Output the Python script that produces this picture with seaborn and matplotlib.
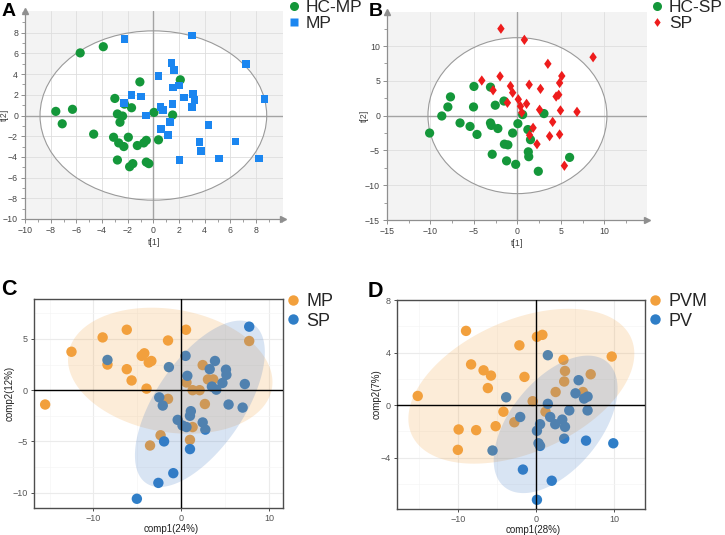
import numpy as np
import pandas as pd
import seaborn as sns
import matplotlib
matplotlib.use("Agg")
import matplotlib.pyplot as plt
from matplotlib.patches import Ellipse, Polygon
from matplotlib.ticker import MultipleLocator, FixedLocator
from matplotlib.path import Path
from matplotlib.lines import Line2D

# ---------------- data ----------------
# Panel A (PLS-DA scores, HC-MP vs MP)
a_hc_x = [-5.7, -3.9, -7.6, -6.3, -7.1, -4.65, -3.0, -1.05, -1.7, -2.25, -2.8, -2.4, -2.6, -3.1, -2.7,
          -2.3, -1.95, -1.25, -0.75, -0.55, -2.8, -1.85, -1.6, -0.55, -0.35, 0.05, 0.4, 1.5, 2.1]
a_hc_y = [6.05, 6.65, 0.4, 0.6, -0.8, -1.8, 1.65, 3.25, 0.75, 1.1, 0.15, -0.05, -0.65, -2.1, -2.65,
          -3.0, -2.1, -2.9, -2.65, -2.4, -4.3, -4.95, -4.65, -4.5, -4.65, 0.3, -2.35, 0.05, 3.45]
a_mp_x = [-2.25, 3.0, 7.2, 8.65, 1.4, 1.6, 0.4, 1.55, 2.0, 2.4, 3.1, 3.2, 3.0, 1.5, 0.55,
          0.75, -1.7, -0.95, -2.3, -0.55, 1.3, 0.6, 1.15, 4.3, 3.6, 3.7, 2.05, 5.1, 6.4, 8.25]
a_mp_y = [7.4, 7.75, 4.95, 1.6, 5.1, 4.4, 3.8, 2.7, 2.9, 1.75, 2.1, 1.5, 0.8, 1.1, 0.85,
          0.55, 2.0, 1.85, 1.2, 0.0, -0.6, -1.3, -1.9, -0.9, -2.55, -3.45, -4.3, -4.15, -2.5, -4.15]
a_labels = ["HC-MP", "MP"]
a_ticks = [-10, -8, -6, -4, -2, 0, 2, 4, 6, 8]

# Panel B (PLS-DA scores, HC-SP vs SP)
b_hc_x = [-10.1, -8.7, -8.0, -7.7, -6.6, -5.45, -4.65, -5.0, -5.05, -3.1, -2.55, -1.55, -3.1, -3.0, -2.25,
          -2.9, -1.5, -1.1, -1.25, -0.2, 0.05, -0.55, 0.6, 1.2, 1.5, 1.25, 1.3, 2.4, 3.05, 6.0]
b_hc_y = [-2.5, -0.05, 1.25, 2.7, -1.05, -1.55, -2.7, 4.2, 1.25, 4.1, 1.5, 2.1, -1.05, -1.4, -1.85,
          -5.55, -4.1, -4.2, -6.5, -7.0, -1.15, -2.5, 0.15, -2.0, -3.45, -5.2, -5.9, -8.0, 0.3, -6.0]
b_sp_x = [-1.9, 0.8, 8.7, 3.5, 5.1, 4.85, 4.75, 4.45, 4.95, 6.85, 2.65, 1.35, -4.1, -2.0, -2.8,
          -0.8, -0.55, -1.15, 0.1, 0.35, 0.5, 1.05, 2.55, 1.8, 4.05, 1.4, 2.25, 3.7, 4.85, 5.4]
b_sp_y = [12.5, 10.9, 8.4, 7.45, 5.7, 4.7, 3.0, 2.75, 0.75, 0.55, 3.85, 4.45, 5.05, 5.65, 3.65,
          4.25, 3.3, 1.85, 2.35, 1.35, 0.45, 1.7, 0.85, -1.75, -0.9, -2.8, -4.1, -2.95, -2.7, -7.2]
b_labels = ["HC-SP", "SP"]
b_ticks = [-15, -10, -5, 0, 5, 10]

# Panel C (sPLS-DA, MP vs SP)
c_mp_x = [-15.5, -12.5, -8.95, -6.2, -8.4, -6.2, -5.65, -4.5, -4.2, -3.7, -3.4, -3.95, -1.5, 0.55,
          -1.5, 0.6, 1.3, 2.1, 2.45, 2.7, 3.05, 3.65, 1.3, 1.0, -2.35, -3.55, 7.75]
c_mp_y = [-1.4, 3.75, 5.15, 5.9, 2.5, 2.05, 0.95, 3.35, 3.6, 2.7, 2.85, 0.15, 4.85, 5.9,
          -0.85, 0.75, 0.0, 0.0, 2.45, -1.35, 1.05, 1.05, -3.6, -4.85, -4.4, -5.4, 4.8]
c_sp_x = [7.75, -8.4, 0.5, -1.4, 0.7, 3.25, 3.85, 5.1, 5.15, 4.7, 3.5, 4.0, 7.25, 5.4, 7.0,
          -2.5, -2.1, 1.1, 1.0, -0.4, 0.15, 0.6, 2.45, 2.75, -1.95, 1.0, -0.9, -2.6, -5.05]
c_sp_y = [6.2, 2.95, 3.35, 2.25, 1.4, 2.05, 2.85, 2.0, 1.5, 0.7, 0.35, 0.05, 0.6, -1.4, -1.7,
          -0.7, -1.5, -2.05, -2.5, -2.9, -3.45, -3.6, -3.15, -3.85, -5.0, -5.75, -8.1, -9.05, -10.6]
c_labels = ["MP", "SP"]
c_axis = ["comp1(24%)", "comp2(12%)"]
# 95% group ellipses: centre x, centre y, half-extent x, half-extent y, correlation
c_ell_mp = [-1.25, 1.9, 11.65, 6.15, -0.18]
c_ell_sp = [2.13, -1.33, 7.4, 8.12, 0.62]

# Panel D (sPLS-DA, PVM vs PV)
d_pvm_x = [-15.2, -9.0, -8.35, -6.75, -5.8, -6.2, -9.95, -10.05, -7.7, -5.2, -4.2, -2.8, -2.15,
           -1.5, -0.45, 0.1, 0.8, 1.2, 2.5, 3.5, 3.7, 3.6, 6.0, 7.0, 9.7]
d_pvm_y = [0.7, 5.65, 3.1, 2.65, 2.25, 1.3, -1.85, -3.4, -1.9, -1.6, -0.5, -1.3, 4.55,
           2.15, 0.3, 5.2, 5.35, -0.5, 1.0, 3.45, 2.6, 1.8, 1.0, 2.35, 3.7]
d_pv_x = [1.5, 5.45, 5.05, 6.15, 6.6, 6.6, 4.25, 1.5, -3.85, -2.05, 1.8, 2.45, 3.35, 3.7, 0.5,
          0.1, 3.6, 0.3, 0.5, -5.6, 6.4, 9.9, -1.7, 2.0, 0.1]
d_pv_y = [3.8, 1.9, 0.9, 0.5, 0.65, -0.4, -0.4, 0.1, 0.6, -0.9, -0.9, -1.45, -1.1, -1.65, -1.45,
          -1.95, -2.55, -2.9, -3.1, -3.45, -2.7, -2.9, -4.9, -5.75, -7.2]
d_labels = ["PVM", "PV"]
d_axis = ["comp1(28%)", "comp2(7%)"]
d_ell_pvm = [-1.9, 1.44, 14.5, 5.89, 0.42]
d_ell_pv = [2.5, -1.46, 7.95, 5.23, 0.52]

# ---------------- helpers ----------------
sns.set_style("white")
plt.rcParams['font.family'] = ['Liberation Sans', 'DejaVu Sans']

W, H = 725, 535
fig = plt.figure(figsize=(W / 100, H / 100), dpi=100)


def px_axes(l, t, r, b):
    return fig.add_axes([l / W, 1 - b / H, (r - l) / W, (b - t) / H])


def f2_crit(d, p=0.95):
    # quantile of F(2, d)
    return d / 2.0 * ((1 - p) ** (-2.0 / d) - 1)


def hotelling_radii(xs, ys):
    t = np.column_stack([xs, ys])
    n = len(t)
    s2 = (t ** 2).sum(axis=0) / (n - 1)
    t2 = 2 * (n ** 2 - 1) / (n * (n - 2)) * f2_crit(n - 2)
    return np.sqrt(s2 * t2)


def ellipse_pts(spec, seg=160):
    cx, cy, sx, sy, rho = spec
    cov = np.array([[sx * sx, rho * sx * sy], [rho * sx * sy, sy * sy]])
    ch = np.linalg.cholesky(cov)
    ang = np.linspace(0, 2 * np.pi, seg + 1)
    uc = np.vstack([np.cos(ang), np.sin(ang)])
    pts = ch @ uc
    return np.column_stack([cx + pts[0], cy + pts[1]])


GREEN = "#14973a"
BLUE_SQ = "#1b86f0"
RED = "#ee1c1c"
ORANGE = "#f2a03d"
BLUE = "#2f7ec7"
diamond = Path([(-0.36, 0), (0, 0.5), (0.36, 0), (0, -0.5), (-0.36, 0)],
               [Path.MOVETO, Path.LINETO, Path.LINETO, Path.LINETO, Path.CLOSEPOLY])


def simca_panel(ax, gx, gy, ox, oy, labels, omarker, ocolor, osize, lim, ticks, minor, leg_xy, ylab_x):
    xs = np.array(gx + ox)
    ys = np.array(gy + oy)
    df = pd.DataFrame({"x": xs, "y": ys,
                       "g": [labels[0]] * len(gx) + [labels[1]] * len(ox)})
    ax.set_facecolor("#f3f3f3")
    rx, ry = hotelling_radii(xs, ys)
    ax.add_patch(Ellipse((0, 0), 2 * rx, 2 * ry, facecolor="white", edgecolor="none", zorder=0.5))
    ax.add_patch(Ellipse((0, 0), 2 * rx, 2 * ry, facecolor="none", edgecolor="#9a9a9a", lw=0.8, zorder=1.5))
    ax.set_axisbelow(True)
    ax.grid(True, color="#dedede", lw=0.6, zorder=0.8)
    ax.axhline(0, color="#a3a3a3", lw=1.0, zorder=1.2)
    ax.axvline(0, color="#a3a3a3", lw=1.0, zorder=1.2)
    sns.scatterplot(data=df[df.g == labels[0]], x="x", y="y", color=GREEN, marker="o", s=44,
                    edgecolor="none", ax=ax, zorder=3, legend=False)
    sns.scatterplot(data=df[df.g == labels[1]], x="x", y="y", color=ocolor, marker=omarker, s=osize,
                    edgecolor="none", ax=ax, zorder=3, legend=False)
    ax.set_xlim(lim[0], lim[1])
    ax.set_ylim(lim[2], lim[3])
    ax.xaxis.set_major_locator(FixedLocator(ticks))
    ax.yaxis.set_major_locator(FixedLocator(ticks))
    ax.xaxis.set_minor_locator(MultipleLocator(minor))
    ax.yaxis.set_minor_locator(MultipleLocator(minor))
    for s in ["top", "right"]:
        ax.spines[s].set_visible(False)
    for s in ["left", "bottom"]:
        ax.spines[s].set_color("#8f8f8f")
        ax.spines[s].set_linewidth(0.9)
    ax.tick_params(which="major", length=3, width=0.7, color="#8f8f8f", labelsize=6.3,
                   labelcolor="#444444", pad=2, bottom=True, left=True)
    ax.tick_params(which="minor", length=2, width=0.6, color="#8f8f8f", bottom=True, left=True)
    ax.plot(1, lim[2], ">", transform=ax.get_yaxis_transform(), clip_on=False, color="#8f8f8f", ms=5)
    ax.plot(lim[0], 1, "^", transform=ax.get_xaxis_transform(), clip_on=False, color="#8f8f8f", ms=5)
    ax.set_xlabel("t[1]", fontsize=6.3, color="#444444", labelpad=2)
    ax.set_ylabel("t[2]", fontsize=6.3, color="#444444")
    ax.yaxis.set_label_coords(ylab_x, 0.5)
    handles = [Line2D([], [], ls="none", marker="o", color=GREEN, ms=6.5, mec="none"),
               Line2D([], [], ls="none", marker=omarker, color=ocolor, ms=6.3, mec="none")]
    ax.legend(handles, labels, loc="upper left", bbox_to_anchor=(leg_xy[0] / W, 1 - leg_xy[1] / H),
              bbox_transform=fig.transFigure, frameon=False, fontsize=12.5, handletextpad=0.25,
              labelspacing=0.05, borderpad=0, borderaxespad=0, handlelength=0.9)


def mix_panel(ax, ax_, ay_, bx_, by_, labels, axis_labels, ells, xlim, ylim, yticks, yminor, leg_xy, ylab_x):
    df = pd.DataFrame({"x": ax_ + bx_, "y": ay_ + by_,
                       "g": [labels[0]] * len(ax_) + [labels[1]] * len(bx_)})
    ax.set_facecolor("white")
    ax.set_axisbelow(True)
    ax.xaxis.set_major_locator(MultipleLocator(10))
    ax.xaxis.set_minor_locator(MultipleLocator(5))
    ax.set_yticks(yticks)
    ax.set_yticks(yminor, minor=True)
    ax.grid(True, which="major", color="#ebebeb", lw=0.8)
    ax.grid(True, which="minor", color="#f5f5f5", lw=0.5)
    sns.scatterplot(data=df, x="x", y="y", hue="g", palette={labels[0]: ORANGE, labels[1]: BLUE},
                    s=56, edgecolor="none", ax=ax, zorder=2, legend=False)
    for spec, col in zip(ells, [ORANGE, "#3f78c4"]):
        ax.add_patch(Polygon(ellipse_pts(spec), closed=True, facecolor=col, alpha=0.2,
                             edgecolor="none", zorder=3))
    ax.axhline(0, color="black", lw=1.0, zorder=4)
    ax.axvline(0, color="black", lw=1.0, zorder=4)
    ax.set_xlim(*xlim)
    ax.set_ylim(*ylim)
    for s in ax.spines.values():
        s.set_visible(True)
        s.set_color("#4d4d4d")
        s.set_linewidth(1.0)
    ax.tick_params(which="major", length=2.5, width=0.7, color="#4d4d4d", labelsize=6.5,
                   labelcolor="#555555", pad=2, bottom=True, left=True)
    ax.tick_params(which="minor", length=0)
    ax.set_xlabel(axis_labels[0], fontsize=7.0, color="#222222")
    ax.set_ylabel(axis_labels[1], fontsize=7.0, color="#222222")
    ax.xaxis.set_label_coords(0.55, -0.078)
    ax.yaxis.set_label_coords(ylab_x, 0.55)
    handles = [Line2D([], [], ls="none", marker="o", color=ORANGE, ms=7.5, mec="none"),
               Line2D([], [], ls="none", marker="o", color=BLUE, ms=7.5, mec="none")]
    ax.legend(handles, labels, loc="upper left", bbox_to_anchor=(leg_xy[0] / W, 1 - leg_xy[1] / H),
              bbox_transform=fig.transFigure, frameon=False, fontsize=13, handletextpad=0.3,
              labelspacing=0.15, borderpad=0, borderaxespad=0, handlelength=0.9)


# ---------------- panels ----------------
axA = px_axes(25, 11, 283, 219)
simca_panel(axA, a_hc_x, a_hc_y, a_mp_x, a_mp_y, a_labels, "s", BLUE_SQ, 30,
            (-10, 10.1, -10, 10.1), a_ticks, 1, (286, 0), -0.062)

axB = px_axes(387, 12, 647, 220)
simca_panel(axB, b_hc_x, b_hc_y, b_sp_x, b_sp_y, b_labels, diamond, RED, 55,
            (-15, 14.9, -15, 14.9), b_ticks, 2.5, (649, 0), -0.07)

axC = px_axes(34, 299, 283, 508)
mix_panel(axC, c_mp_x, c_mp_y, c_sp_x, c_sp_y, c_labels, c_axis, [c_ell_mp, c_ell_sp],
          (-16.77, 11.6), (-11.5, 8.9), [-10, -5, 0, 5], [-7.5, -2.5, 2.5, 7.5], (285, 293), -0.077)

axD = px_axes(397, 300, 645, 509)
mix_panel(axD, d_pvm_x, d_pvm_y, d_pv_x, d_pv_y, d_labels, d_axis, [d_ell_pvm, d_ell_pv],
          (-17.86, 13.97), (-7.9, 8.0), [-4, 0, 4, 8], [-6, -2, 2, 6], (647, 293), -0.062)

for txt, x, y, fs in [("A", 2, 3, 14), ("B", 369, 3, 14), ("C", 1, 279, 15.5), ("D", 368, 281, 15.5)]:
    fig.text(x / W, 1 - y / H, txt, fontsize=fs, fontweight="bold", ha="left", va="top", color="black")

fig.savefig("out.png", dpi=100)
